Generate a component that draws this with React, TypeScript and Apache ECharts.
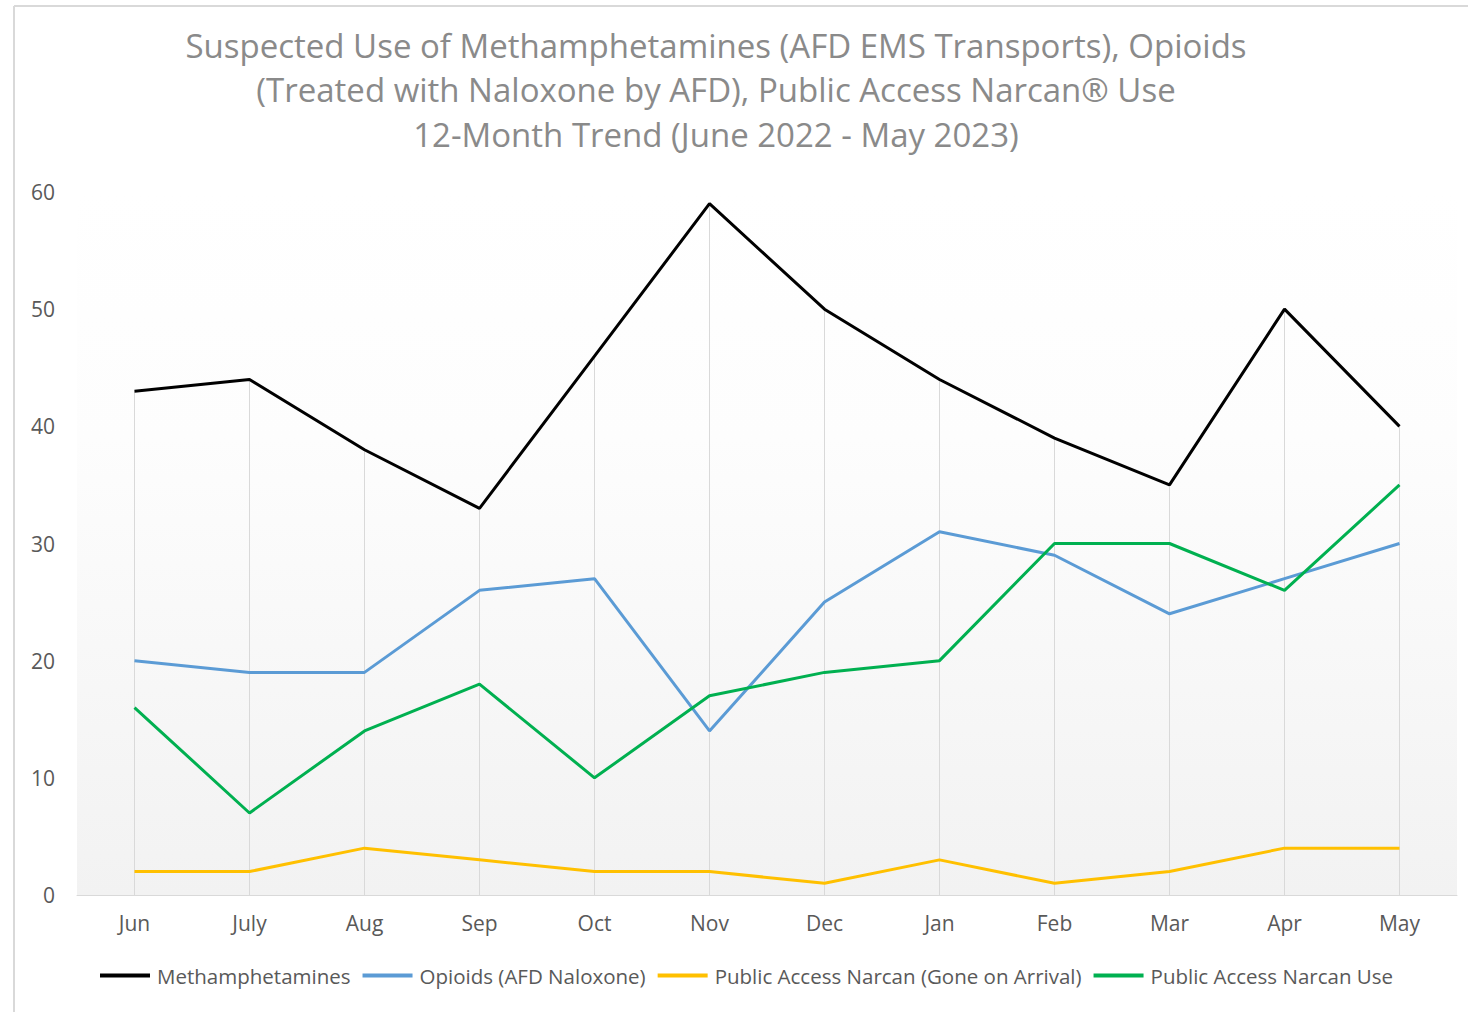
import React, { useEffect, useRef } from "react";
import * as echarts from "echarts";

const months = ["Jun", "July", "Aug", "Sep", "Oct", "Nov", "Dec", "Jan", "Feb", "Mar", "Apr", "May"];
const methamphetamines = [43, 44, 38, 33, 46, 59, 50, 44, 39, 35, 50, 40];
const opioids = [20, 19, 19, 26, 27, 14, 25, 31, 29, 24, 27, 30];
const goneOnArrival = [2, 2, 4, 3, 2, 2, 1, 3, 1, 2, 4, 4];
const narcanUse = [16, 7, 14, 18, 10, 17, 19, 20, 30, 30, 26, 35];
const yTicks = { min: 0, max: 60, interval: 10 };

const titleLines = [
  "Suspected Use of Methamphetamines (AFD EMS Transports), Opioids",
  "(Treated with Naloxone by AFD), Public Access Narcan® Use",
  "12-Month Trend (June 2022 - May 2023)",
];

const seriesNames = [
  "Methamphetamines",
  "Opioids (AFD Naloxone)",
  "Public Access Narcan (Gone on Arrival)",
  "Public Access Narcan Use",
];

const FONT = "'Open Sans', 'Noto Sans', sans-serif";

export default function App() {
  const ref = useRef<HTMLDivElement>(null);
  useEffect(() => {
    if (!ref.current) return;
    const chart = echarts.init(ref.current, null, { renderer: "svg" });
    const mkLine = (name: string, data: number[], color: string) => ({
      name,
      type: "line",
      data,
      symbol: "none",
      lineStyle: { color, width: 3 },
      itemStyle: { color },
      z: 3,
    });
    chart.setOption({
      animation: false,
      backgroundColor: "#ffffff",
      textStyle: { fontFamily: FONT },
      graphic: [
        { type: "line", shape: { x1: 14, y1: 6, x2: 1468, y2: 6 }, style: { stroke: "#d9d9d9", lineWidth: 2 } },
        { type: "line", shape: { x1: 14, y1: 6, x2: 14, y2: 1012 }, style: { stroke: "#d9d9d9", lineWidth: 2 } },
        ...titleLines.map((t, i) => ({
          type: "text",
          x: 716,
          y: 45 + i * 44.5,
          style: {
            text: t,
            textAlign: "center",
            textVerticalAlign: "middle",
            fontSize: 33,
            fontFamily: FONT,
            fill: "#8a8a8a",
          },
        })),
      ],
      grid: {
        left: 77,
        right: 11,
        top: 192,
        bottom: 117,
        show: true,
        borderWidth: 0,
        backgroundColor: new echarts.graphic.LinearGradient(0, 0, 0, 1, [
          { offset: 0, color: "#ffffff" },
          { offset: 0.35, color: "#fdfdfd" },
          { offset: 1, color: "#f2f2f2" },
        ]),
      },
      legend: {
        data: seriesNames,
        left: 100,
        top: 965,
        padding: 0,
        icon: "rect",
        itemWidth: 50,
        itemHeight: 4,
        itemGap: 12,
        textStyle: { fontSize: 20.5, color: "#595959", fontFamily: FONT, padding: [0, 0, 0, 2] },
      },
      xAxis: {
        type: "category",
        data: months,
        boundaryGap: true,
        axisLine: { lineStyle: { color: "#d9d9d9", width: 1 } },
        axisTick: { show: false },
        axisLabel: { color: "#595959", fontSize: 21, margin: 17, fontFamily: FONT },
        splitLine: { show: false },
      },
      yAxis: {
        type: "value",
        min: yTicks.min,
        max: yTicks.max,
        interval: yTicks.interval,
        axisLine: { show: false },
        axisTick: { show: false },
        splitLine: { show: false },
        axisLabel: { color: "#595959", fontSize: 21, margin: 22, fontFamily: FONT },
      },
      series: [
        {
          name: "dropLines",
          type: "bar",
          data: methamphetamines,
          barWidth: 1,
          itemStyle: { color: "#d9d9d9" },
          silent: true,
          z: 1,
        },
        mkLine(seriesNames[0], methamphetamines, "#000000"),
        mkLine(seriesNames[1], opioids, "#5b9bd5"),
        mkLine(seriesNames[2], goneOnArrival, "#ffc000"),
        mkLine(seriesNames[3], narcanUse, "#00b050"),
      ],
    });
    return () => chart.dispose();
  }, []);
  return <div ref={ref} style={{ position: "fixed", left: 0, top: 0, width: 1468, height: 1012 }} />;
}
